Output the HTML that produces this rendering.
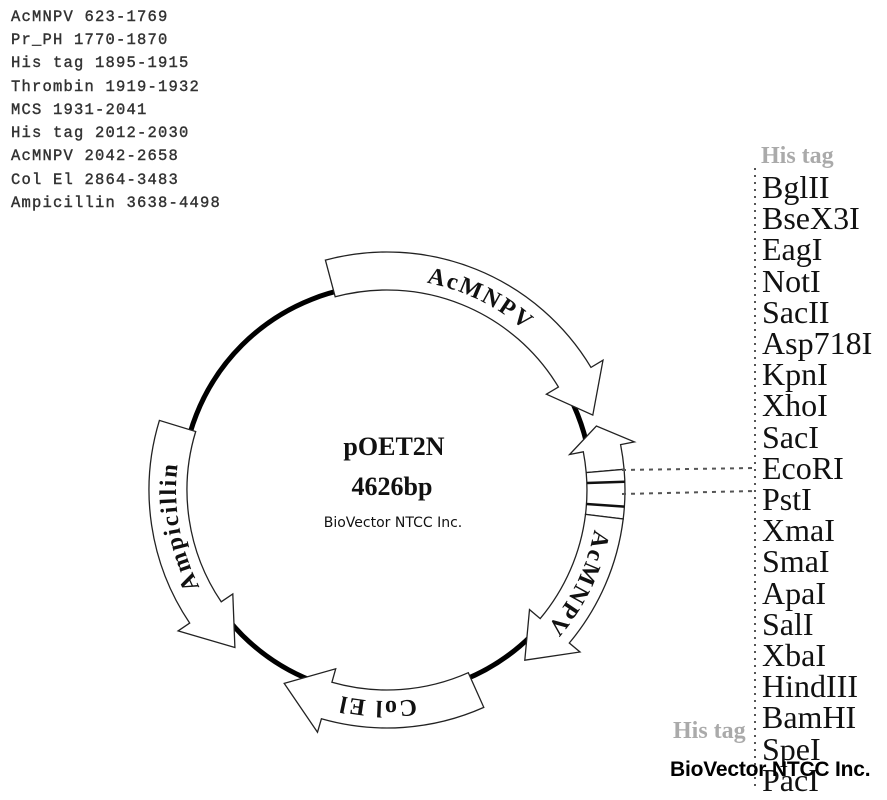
<!DOCTYPE html>
<html><head><meta charset="utf-8"><style>
html,body{margin:0;padding:0;background:#fff;}
body{width:887px;height:800px;position:relative;overflow:hidden;}
svg{position:absolute;left:0;top:0;}
</style></head><body>
<svg id="s" width="887" height="800" viewBox="0 0 887 800" xmlns="http://www.w3.org/2000/svg">
<g font-family="'Liberation Mono',monospace" font-size="15.5" fill="#333" stroke="#333" stroke-width="0.4" letter-spacing="1.2">
<text x="11" y="21">AcMNPV 623-1769</text>
<text x="11" y="44">Pr_PH 1770-1870</text>
<text x="11" y="67">His tag 1895-1915</text>
<text x="11" y="91">Thrombin 1919-1932</text>
<text x="11" y="114">MCS 1931-2041</text>
<text x="11" y="137">His tag 2012-2030</text>
<text x="11" y="160">AcMNPV 2042-2658</text>
<text x="11" y="184">Col El 2864-3483</text>
<text x="11" y="207">Ampicillin 3638-4498</text>
</g>
<circle cx="387" cy="490" r="205" fill="none" stroke="#000" stroke-width="5"/>
<g id="feat" fill="#fff" stroke="#222" stroke-width="1.3"></g>
<g id="lbl" font-family="'Liberation Serif',serif" font-weight="bold" font-size="24" fill="#111" letter-spacing="2"></g>
<line x1="622" y1="470" x2="755" y2="468" stroke="#555" stroke-width="2" stroke-dasharray="4,5"/>
<line x1="622" y1="494" x2="755" y2="491" stroke="#555" stroke-width="2" stroke-dasharray="4,5"/>
<line x1="755" y1="168" x2="755" y2="790" stroke="#555" stroke-width="2" stroke-dasharray="2,5"/>
<g font-family="'Liberation Serif',serif" font-size="32" fill="#111">
<text x="762" y="198">BglII</text>
<text x="762" y="229">BseX3I</text>
<text x="762" y="260">EagI</text>
<text x="762" y="292">NotI</text>
<text x="762" y="323">SacII</text>
<text x="762" y="354">Asp718I</text>
<text x="762" y="385">KpnI</text>
<text x="762" y="416">XhoI</text>
<text x="762" y="448">SacI</text>
<text x="762" y="479">EcoRI</text>
<text x="762" y="510">PstI</text>
<text x="762" y="541">XmaI</text>
<text x="762" y="572">SmaI</text>
<text x="762" y="604">ApaI</text>
<text x="762" y="635">SalI</text>
<text x="762" y="666">XbaI</text>
<text x="762" y="697">HindIII</text>
<text x="762" y="728">BamHI</text>
<text x="762" y="760">SpeI</text>
<text x="762" y="791">PacI</text>
</g>
<g font-family="'Liberation Serif',serif" font-size="24" font-weight="bold" fill="#aaa">
<text x="761" y="163">His tag</text>
<text x="673" y="738">His tag</text>
</g>
<text x="670" y="776" font-family="'Liberation Sans',sans-serif" font-weight="bold" font-size="21" fill="#000" letter-spacing="-0.2">BioVector NTCC Inc.</text>
<g font-family="'Liberation Serif',serif" font-weight="bold" fill="#111" font-size="26" text-anchor="middle">
<text x="394" y="455">pOET2N</text>
<text x="392" y="495">4626bp</text>
</g>
<text x="393" y="527" text-anchor="middle" font-family="'DejaVu Sans','Liberation Sans',sans-serif" font-size="14" fill="#111">BioVector NTCC Inc.</text>
</svg>
<script>
var cx=387,cy=490,ri=200,ro=238;
function P(a,r){var t=(a)*Math.PI/180;return [(cx+r*Math.sin(t)).toFixed(1),(cy-r*Math.cos(t)).toFixed(1)];}
function arc(a1,a2,r,cw){var p=P(a2,r);var large=Math.abs(a2-a1)>180?1:0;return "A"+r+","+r+" 0 "+large+","+(cw?1:0)+" "+p[0]+","+p[1];}
function feature(a1,a2,head,hl){
 var d;
 if(head=="end"){
  var h=a2-hl;var s=P(a1,ro);
  d="M"+s+" "+arc(a1,h,ro,1)+" L"+P(h,ro+14)+" L"+P(a2,(ri+ro)/2)+" L"+P(h,ri-14)+" L"+P(h,ri)+" "+arc(h,a1,ri,0)+" Z";
 }else if(head=="start"){
  var h=a1+hl;var s=P(h,ro);
  d="M"+s+" "+arc(h,a2,ro,1)+" L"+P(a2,ri)+" "+arc(a2,h,ri,0)+" L"+P(h,ri-14)+" L"+P(a1,(ri+ro)/2)+" L"+P(h,ro+14)+" Z";
 }else{
  d="M"+P(a1,ro)+" "+arc(a1,a2,ro,1)+" L"+P(a2,ri)+" "+arc(a2,a1,ri,0)+" Z";
 }
 var e=document.createElementNS("http://www.w3.org/2000/svg","path");e.setAttribute("d",d);document.getElementById("feat").appendChild(e);
}
feature(-15,70,"end",11);
feature(73,85,"start",6);
feature(85,97,"none");
feature(97,141,"end",11);
feature(156,208,"end",12);
feature(224,287,"start",12);
var f=document.getElementById("feat");
[[88,2.5],[94,2.5]].forEach(function(x){var l=document.createElementNS("http://www.w3.org/2000/svg","path");l.setAttribute("d","M"+P(x[0],ri)+" L"+P(x[0],ro));l.setAttribute("stroke","#111");l.setAttribute("stroke-width",x[1]);f.appendChild(l);});
var defs=document.createElementNS("http://www.w3.org/2000/svg","defs");document.getElementById("s").appendChild(defs);
function label(id,a1,a2,txt){
 var r=(ri+ro)/2-8;var p=document.createElementNS("http://www.w3.org/2000/svg","path");
 p.setAttribute("id",id);p.setAttribute("d","M"+P(a1,r)+" "+arc(a1,a2,r,1));defs.appendChild(p);
 var t=document.createElementNS("http://www.w3.org/2000/svg","text");
 var tp=document.createElementNS("http://www.w3.org/2000/svg","textPath");
 tp.setAttribute("href","#"+id);tp.setAttributeNS("http://www.w3.org/1999/xlink","xlink:href","#"+id);
 tp.setAttribute("startOffset","50%");t.setAttribute("text-anchor","middle");tp.textContent=txt;t.appendChild(tp);
 document.getElementById("lbl").appendChild(t);
}
label("l1",5,47,"AcMNPV");
label("l2",95,137,"AcMNPV");
label("l3",160,205,"Col El");
label("l4",235,285,"Ampicillin");
</script>
</body></html>
